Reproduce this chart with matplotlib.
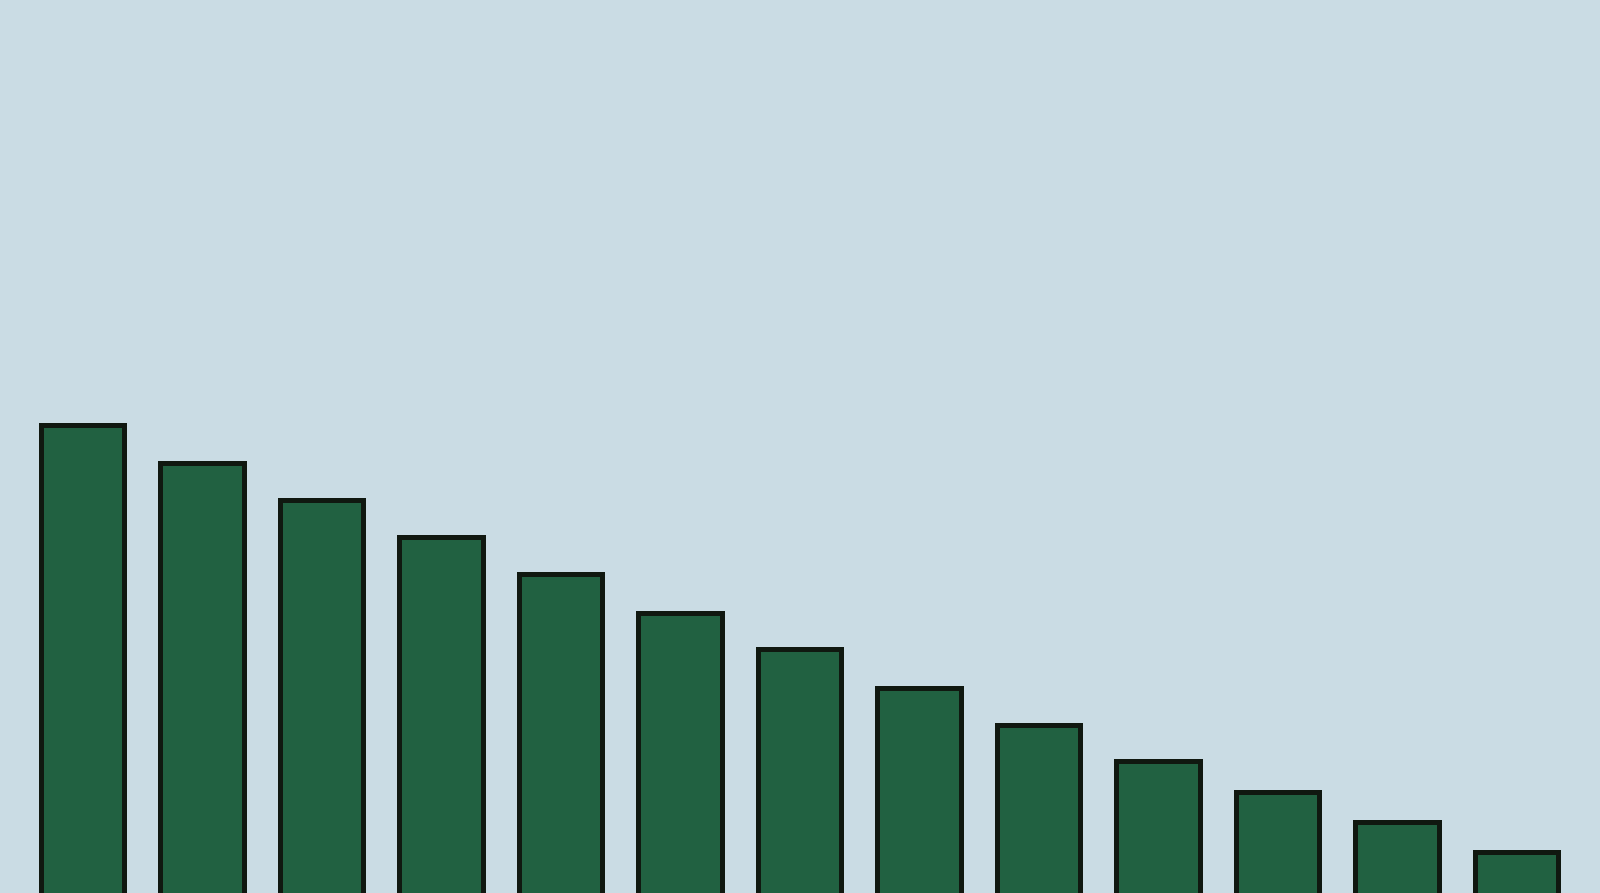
import matplotlib
matplotlib.use("Agg")
import matplotlib.pyplot as plt

categories = ["C1", "C2", "C3", "C4", "C5", "C6", "C7", "C8", "C9", "C10", "C11", "C12", "C13"]
values = [100, 92.0, 84.2, 76.5, 68.5, 60.3, 52.7, 44.5, 36.7, 29.0, 22.5, 16.0, 9.7]

bg = "#CADCE4"
fig = plt.figure(figsize=(16, 8.93), dpi=100)
fig.patch.set_facecolor(bg)
# axes extends a few pixels below the figure so the bars' bottom edges are hidden
ax = fig.add_axes([0, -5 / 893, 1, 898 / 893])
ax.set_facecolor(bg)
x = list(range(len(categories)))
ax.bar(x, values, width=0.7, color="#216141", edgecolor="#101810", linewidth=3.6)
ax.set_xlim(-0.692, 12.70)
ax.set_ylim(0, 190.05)
ax.axis("off")
fig.savefig("out.png", dpi=100, facecolor=bg)
